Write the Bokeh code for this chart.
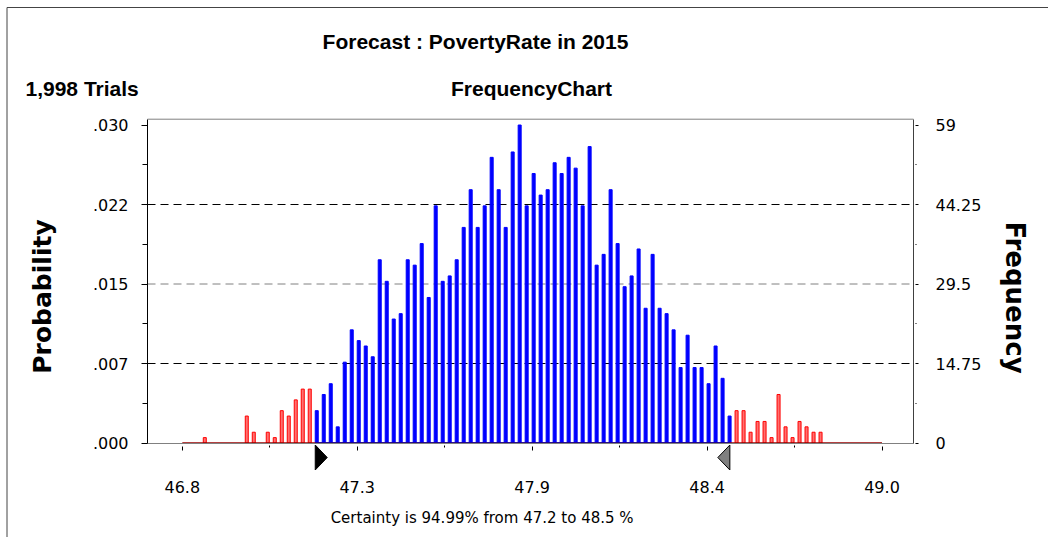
import math
from bokeh.plotting import figure
from bokeh.models import FixedTicker, LinearAxis, Range1d, ColumnDataSource
from bokeh.core.properties import value
from bokeh.embed import file_html
from bokeh.resources import INLINE

# ---------------- data ----------------
bin_first = 46.8          # lower edge of the first bin
bin_width = 0.022         # width of each bin
freq = [0, 0, 0, 1, 0, 0, 0, 0, 0, 5, 2, 0, 2, 1, 6, 5, 8, 10, 10,
        6, 9, 11, 3, 15, 21, 19, 18, 16, 34, 30, 23, 24, 34, 33, 37, 27,
        44, 30, 31, 34, 40, 47, 40, 44, 53, 47, 40, 54, 59, 44, 50, 46, 47,
        52, 50, 53, 51, 44, 55, 33, 35, 47, 37, 29, 31, 36, 25, 35, 25, 24,
        21, 14, 20, 14, 14, 11, 18, 12, 5,
        6, 6, 2, 4, 4, 1, 9, 3, 1, 4, 3, 2, 2,
        0, 0, 0, 0, 0, 0, 0, 0]
cert_low = 47.218
cert_high = 48.5216
x_ticks = [46.8, 47.35, 47.9, 48.45, 49.0]
x_tick_labels = ["46.8", "47.3", "47.9", "48.4", "49.0"]
y_ticks = [0, 14.75, 29.5, 44.25, 59]
prob_labels = [".000", ".007", ".015", ".022", ".030"]
freq_labels = ["0", "14.75", "29.5", "44.25", "59"]
title_text = "Forecast : PovertyRate in 2015"
trials_text = "1,998 Trials"
chart_text = "FrequencyChart"
certainty_text = "Certainty is 94.99% from 47.2 to 48.5  %"
prob_axis_text = "Probability"
freq_axis_text = "Frequency"

# ---------------- layout (pixels on the page) ----------------
W, H = 1048, 537
CL, CR, CT, CB = 147, 913, 118.7, 442.5     # chart box edges
XL, XR = 46.6906, 49.099                     # chart box x limits (data)
YT = 60.08                                   # chart box top (count)
PX = (CR - CL) / (XR - XL)                   # px per x unit
PY = (CB - CT) / YT                          # px per count


def dx(px):
    return XL + (px - CL) / PX


def dy(py):
    return (CB - py) / PY


BLUE = "#0000ff"
RED_LINE = "#ff0000"
RED_FILL = "#ff7070"

p = figure(width=W, height=H, output_backend="svg", toolbar_location=None,
           x_range=Range1d(dx(0), dx(W)), y_range=Range1d(dy(H), dy(0)),
           min_border=0, background_fill_color="white",
           border_fill_color="white")
p.outline_line_color = None
p.xgrid.visible = False
p.ygrid.visible = False

# outer page box (top and left edges)
p.line(x=[dx(6.5), dx(W)], y=[dy(7), dy(7)], line_color="#444444", line_width=1)
p.line(x=[dx(6.5), dx(6.5)], y=[dy(7), dy(H)], line_color="#444444", line_width=1)

# dashed reference lines at the inner frequency ticks
grid_colors = ["black", "#808080", "black"]
for v, c in zip(y_ticks[1:-1], grid_colors):
    p.line(x=[XL, XR], y=[v, v], line_color=c, line_dash="8 5", line_width=1)

# chart box top edge
p.line(x=[XL, XR], y=[YT, YT], line_color="#808080", line_width=1)

# bars
lefts, rights, tops, fills, lines = [], [], [], [], []
for i, f in enumerate(freq):
    lo = bin_first + i * bin_width
    hi = lo + bin_width
    if f <= 0:
        continue
    inside = (hi > cert_low + 1e-6) and (lo < cert_high)
    lefts.append(lo)
    rights.append(lo + bin_width * 0.43)
    tops.append(f)
    fills.append(BLUE if inside else RED_FILL)
    lines.append(BLUE if inside else RED_LINE)
src = ColumnDataSource(dict(left=lefts, right=rights, top=tops,
                            bottom=[0] * len(tops), fill=fills, line=lines))
p.quad(left="left", right="right", top="top", bottom="bottom", source=src,
       fill_color="fill", line_color="line", line_width=1)

# base line of the distribution
edge_lo = bin_first
edge_hi = bin_first + len(freq) * bin_width
p.line(x=[edge_lo, edge_hi], y=[0, 0], line_color="#990000", line_width=1.5)
p.line(x=[cert_low, cert_high], y=[0, 0], line_color="#0000aa", line_width=1.5)

# certainty grabbers (triangles below the axis)
tw = 12 / PX
y_a, y_b, y_m = dy(CB + 2), dy(CB + 27), dy(CB + 14.5)
p.patch(x=[cert_low, cert_low, cert_low + tw], y=[y_a, y_b, y_m],
        fill_color="black", line_color="black", line_width=1)
p.patch(x=[cert_high, cert_high, cert_high - tw], y=[y_a, y_b, y_m],
        fill_color="#808080", line_color="black", line_width=1)

# x axis (at count 0)
x_minor = [(a + b) / 2 for a, b in zip(x_ticks[:-1], x_ticks[1:])]
xa = p.xaxis[0]
xa.fixed_location = 0
xa.bounds = (XL, XR)
xa.ticker = FixedTicker(ticks=x_ticks, minor_ticks=x_minor)
xa.major_label_overrides = dict(zip(x_ticks, x_tick_labels))
xa.axis_line_color = "#808080"
xa.major_tick_line_color = "black"
xa.minor_tick_line_color = "black"
xa.major_tick_in = -3
xa.major_tick_out = 7
xa.minor_tick_in = -2
xa.minor_tick_out = 4
xa.major_label_standoff = 31
xa.major_label_text_font = "DejaVu Sans"
xa.major_label_text_font_size = "16px"
xa.major_label_text_color = "black"

# left (probability) axis
y_minor = [(a + b) / 2 for a, b in zip(y_ticks[:-1], y_ticks[1:])]
ya = p.yaxis[0]
ya.fixed_location = XL
ya.bounds = (0, YT)
ya.ticker = FixedTicker(ticks=y_ticks, minor_ticks=y_minor)
ya.major_label_overrides = dict(zip(y_ticks, prob_labels))
ya.axis_line_color = "black"
ya.major_tick_in = 0
ya.major_tick_out = 6
ya.minor_tick_in = 0
ya.minor_tick_out = 5
ya.major_label_standoff = 13
ya.major_label_text_font = "DejaVu Sans"
ya.major_label_text_font_size = "16px"
ya.major_label_text_color = "black"

# right (frequency) axis
ra = LinearAxis(ticker=FixedTicker(ticks=y_ticks, minor_ticks=y_minor),
                fixed_location=XR, bounds=(0, YT))
ra.major_label_overrides = dict(zip(y_ticks, freq_labels))
ra.axis_line_color = "#404040"
ra.major_tick_in = -2
ra.major_tick_out = 5
ra.minor_tick_in = -2
ra.minor_tick_out = 3
ra.major_label_standoff = 17
ra.major_label_text_font = "DejaVu Sans"
ra.major_label_text_font_size = "16px"
ra.major_label_text_color = "black"
p.add_layout(ra, "right")


def txt(text, px, py, font, size, style="normal", align="left",
        baseline="alphabetic", angle=0.0):
    p.text(x=[dx(px)], y=[dy(py)], text=[text], text_font=value(font),
           text_font_size=value(size), text_font_style=style,
           text_align=align, text_baseline=baseline, angle=angle,
           text_color="black")


HEAD = "Liberation Sans"
txt(title_text, 475, 41, HEAD, "21px", "bold", "center")
txt(trials_text, 25, 88, HEAD, "21px", "bold", "left")
txt(chart_text, 531, 88, HEAD, "21px", "bold", "center")
txt(certainty_text, 484, 517, "DejaVu Sans", "15px", "normal", "center", "middle")
txt(prob_axis_text, 42, 296, "DejaVu Sans", "25px", "bold", "center", "middle",
    math.pi / 2)
txt(freq_axis_text, 1014, 297, "DejaVu Sans", "26px", "bold", "center", "middle",
    -math.pi / 2)

open("out.html", "w").write(file_html(p, INLINE))
